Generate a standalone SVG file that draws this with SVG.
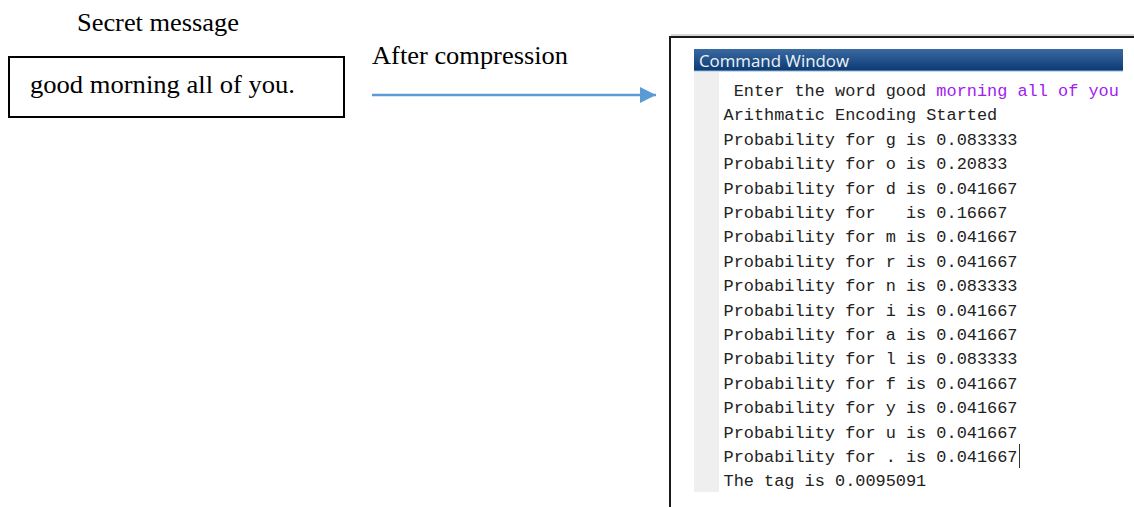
<svg xmlns="http://www.w3.org/2000/svg" width="1134" height="507" viewBox="0 0 1134 507">
  <defs>
    <linearGradient id="titleGrad" x1="0" y1="0" x2="0" y2="1">
      <stop offset="0" stop-color="#3b6aa3"/>
      <stop offset="1" stop-color="#0b3a72"/>
    </linearGradient>
    <marker id="arrowHead" viewBox="0 0 10 10" refX="10" refY="5" markerWidth="16" markerHeight="16" markerUnits="userSpaceOnUse" orient="auto">
      <path d="M0,0 L10,5 L0,10 Z" fill="#5b9bd5"/>
    </marker>
    <style>
      .serif { font-family: "Liberation Serif", "Times New Roman", serif; font-size: 25.5px; fill: #000; }
      .mono { font-family: "Liberation Mono", "Courier New", monospace; font-size: 16.9px; fill: #222222; white-space: pre; }
      .str { fill: #a020f0; }
      .title { font-family: "Open Sans", "Noto Sans", sans-serif; font-size: 16.5px; fill: #eef3f9; }
    </style>
  </defs>

  <rect width="1134" height="507" fill="#ffffff"/>

  <!-- caption above the input box -->
  <g id="secret-label">
    <text class="serif" x="77" y="31" textLength="162" lengthAdjust="spacingAndGlyphs">Secret message</text>
  </g>

  <!-- input message box -->
  <g id="message-box">
    <rect x="9" y="57" width="335" height="60" fill="#ffffff" stroke="#000" stroke-width="2"/>
    <text class="serif" x="30" y="93" textLength="265" lengthAdjust="spacingAndGlyphs">good morning all of you.</text>
  </g>

  <!-- connector label -->
  <g id="compression-label">
    <text class="serif" x="372" y="63.5" textLength="196" lengthAdjust="spacingAndGlyphs">After compression</text>
  </g>

  <g id="connectors">
    <line x1="372" y1="95" x2="656" y2="95" stroke="#5b9bd5" stroke-width="2.4" marker-end="url(#arrowHead)"/>
  </g>

  <!-- MATLAB command window screenshot -->
  <g id="command-window">
    <path d="M670,507 V37 H1134" fill="none" stroke="#1a1a1a" stroke-width="2"/>
    <line x1="671" y1="35" x2="1134" y2="35" stroke="#b0b0b0" stroke-width="1"/>
    <rect x="694" y="49" width="429" height="22" fill="url(#titleGrad)"/>
    <line x1="694" y1="71" x2="1123" y2="71" stroke="#8fb3d9" stroke-width="1"/>
    <text class="title" x="699" y="66.5" textLength="150" lengthAdjust="spacingAndGlyphs">Command Window</text>
    <rect x="694" y="72" width="25" height="420" fill="#efefef"/>
    <rect x="719" y="72" width="404" height="420" fill="#ffffff"/>

    <text class="mono" x="723.5" y="96"> Enter the word good <tspan class="str">morning all of you</tspan></text>
    <text class="mono" x="723.5" y="120.4">Arithmatic Encoding Started</text>
    <text class="mono" x="723.5" y="144.8">Probability for g is 0.083333</text>
    <text class="mono" x="723.5" y="169.2">Probability for o is 0.20833</text>
    <text class="mono" x="723.5" y="193.6">Probability for d is 0.041667</text>
    <text class="mono" x="723.5" y="218">Probability for   is 0.16667</text>
    <text class="mono" x="723.5" y="242.4">Probability for m is 0.041667</text>
    <text class="mono" x="723.5" y="266.8">Probability for r is 0.041667</text>
    <text class="mono" x="723.5" y="291.2">Probability for n is 0.083333</text>
    <text class="mono" x="723.5" y="315.6">Probability for i is 0.041667</text>
    <text class="mono" x="723.5" y="340">Probability for a is 0.041667</text>
    <text class="mono" x="723.5" y="364.4">Probability for l is 0.083333</text>
    <text class="mono" x="723.5" y="388.8">Probability for f is 0.041667</text>
    <text class="mono" x="723.5" y="413.2">Probability for y is 0.041667</text>
    <text class="mono" x="723.5" y="437.6">Probability for u is 0.041667</text>
    <text class="mono" x="723.5" y="462">Probability for . is 0.041667</text>
    <text class="mono" x="723.5" y="486.4">The tag is 0.0095091</text>
    <!-- text cursor -->
    <line x1="1019.5" y1="444" x2="1019.5" y2="468" stroke="#333" stroke-width="1"/>
  </g>
</svg>
